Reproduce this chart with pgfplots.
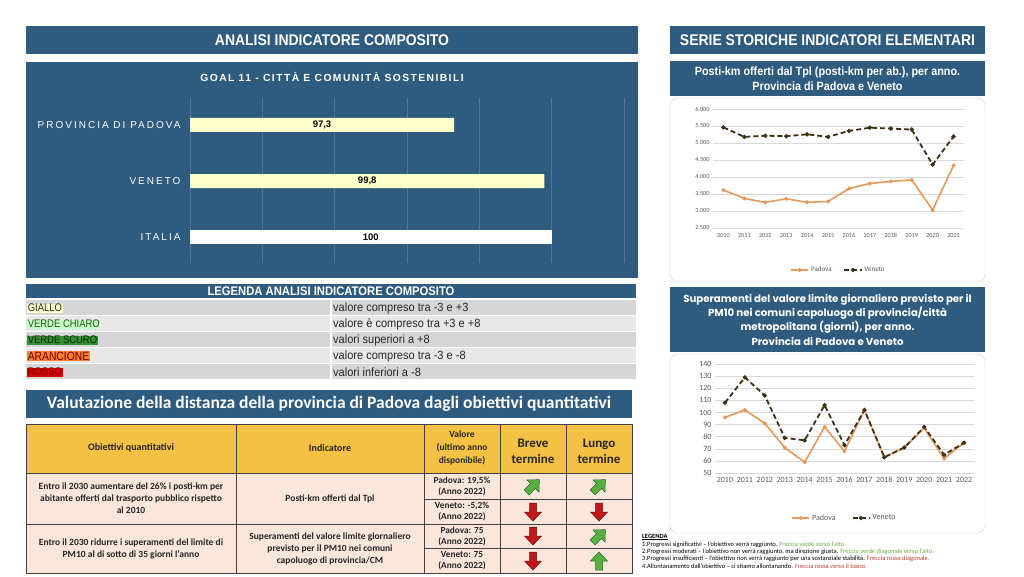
\documentclass[border=0pt]{standalone}
\usepackage{fontspec}
\usepackage{pgfplots}
\pgfplotsset{compat=1.18}
\setmainfont{Carlito}
\newfontfamily\cond[FakeStretch=0.9]{Liberation Sans}
\newfontfamily\narrow[FakeStretch=0.86]{Liberation Sans}
\newfontfamily\legfont[FakeStretch=0.92]{Liberation Sans}
\newfontfamily\arial{Liberation Sans}
\newfontfamily\spaced[LetterSpace=14]{Liberation Sans}
\newfontfamily\wide[LetterSpace=20]{Liberation Sans}
\newfontfamily\pop{Poppins}

\definecolor{hdr}{HTML}{2E5B7E}
\definecolor{gridblue}{HTML}{4F7596}
\definecolor{giallo}{HTML}{FFFFCC}
\definecolor{rowA}{HTML}{D6D6D6}
\definecolor{rowB}{HTML}{E8E8E8}
\definecolor{thead}{HTML}{F5C145}
\definecolor{tbody}{HTML}{FAE6DA}
\definecolor{padova}{HTML}{E39A5C}
\definecolor{veneto}{HTML}{3D3015}
\definecolor{tickgray}{HTML}{595959}
\definecolor{agreen}{HTML}{58B042}
\definecolor{ared}{HTML}{C3161B}
\definecolor{txtgreen}{HTML}{6AAE45}
\definecolor{txtred}{HTML}{C0392B}

\tikzset{
  blockarrow/.pic={\path[pic actions] (-3.5,-9) -- (3.5,-9) -- (3.5,0) -- (8.5,0) -- (0,9) -- (-8.5,0) -- (-3.5,0) -- cycle;},
  up/.style={fill=agreen, draw=agreen!55!black, line width=0.5pt},
  diag/.style={fill=agreen, draw=agreen!55!black, line width=0.5pt, rotate=-45},
  down/.style={fill=ared, draw=ared!55!black, line width=0.5pt, rotate=180},
  cell/.style={align=center, text=black!85, font=\bfseries\fontsize{9.5}{12}\selectfont},
  val/.style={align=center, text=black!85, font=\bfseries\fontsize{9.3}{11}\selectfont},
  leg/.style={anchor=west, inner sep=0.6pt, font=\narrow\fontsize{11}{12}\selectfont},
}

\begin{document}
\begin{tikzpicture}[x=1pt,y=1pt]
\path[use as bounding box] (0,0) rectangle (1024,-576);
\fill[white] (0,0) rectangle (1024,-576);

% ---- left column headers
\fill[hdr] (26,-26) rectangle (638,-54);
\node[text=white, font=\cond\bfseries\fontsize{15.5}{18}\selectfont] at (332,-40) {ANALISI INDICATORE COMPOSITO};
\fill[hdr] (26,-62) rectangle (638,-278);
\node[text=white, font=\spaced\bfseries\fontsize{10.3}{12}\selectfont] at (332,-77) {GOAL 11 - CITTÀ E COMUNITÀ SOSTENIBILI};

% ---- legend of composite indicator
\fill[hdr] (26,-284) rectangle (636,-298);
\node[text=white, font=\cond\bfseries\fontsize{12.5}{13}\selectfont] at (331,-291) {LEGENDA ANALISI INDICATORE COMPOSITO};
\foreach \i/\c in {0/rowA,1/rowB,2/rowA,3/rowB,4/rowA} {
  \fill[\c] (26,-300-16*\i) rectangle (330,-315-16*\i);
  \fill[\c] (332,-300-16*\i) rectangle (636,-315-16*\i);
}
\node[leg, fill=giallo, text=black!85] at (27,-308) {GIALLO};
\node[leg, fill=green!22!white, text={rgb,255:red,40;green,85;blue,25}] at (27,-324) {VERDE CHIARO};
\node[leg, fill=green!45!black!80, text={rgb,255:red,15;green,40;blue,10}] at (27,-340) {VERDE SCURO};
\node[leg, fill=orange!75!red!80, text=red!40!black, font=\narrow\fontsize{12}{13}\selectfont] at (27,-356) {ARANCIONE};
\node[leg, fill=red!85!black, text=red!45!black] at (27,-372) {ROSSO};
\foreach \i/\t in {0/valore compreso tra -3 e +3,1/valore è compreso tra +3 e +8,2/valori superiori a +8,3/valore compreso tra -3 e -8,4/valori inferiori a -8}
  \node[anchor=west, inner sep=0pt, text=black!85, font=\legfont\fontsize{12}{13}\selectfont] at (333,-308-16*\i) {\t};

% ---- evaluation table
\fill[hdr] (26,-390) rectangle (632,-418);
\node[text=white, font=\bfseries\fontsize{17.5}{20}\selectfont] at (329,-404) {Valutazione della distanza della provincia di Padova dagli obiettivi quantitativi};
\fill[thead] (26,-424) rectangle (632,-473);
\fill[tbody] (26,-473) rectangle (632,-573);
\begin{scope}[draw=black!75, line width=0.6pt]
  \draw (26,-424) rectangle (632,-573);
  \draw (26,-473) -- (632,-473);
  \draw (26,-524) -- (632,-524);
  \draw (424,-499) -- (632,-499);
  \draw (424,-548) -- (632,-548);
  \foreach \x in {236,424,500,566} \draw (\x,-424) -- (\x,-573);
\end{scope}
\node[cell, font=\bfseries\fontsize{10}{12}\selectfont] at (131,-448) {Obiettivi quantitativi};
\node[cell, font=\bfseries\fontsize{10}{12}\selectfont] at (330,-448) {Indicatore};
\node[cell, font=\bfseries\fontsize{9.5}{13}\selectfont] at (462,-448) {Valore\\(ultimo anno\\disponibile)};
\node[cell, font=\bfseries\fontsize{13}{16}\selectfont] at (533,-451) {Breve\\termine};
\node[cell, font=\bfseries\fontsize{13}{16}\selectfont] at (599,-451) {Lungo\\termine};
\node[cell] at (131,-498.5) {Entro il 2030 aumentare del 26\% i posti-km per\\abitante offerti dal trasporto pubblico rispetto\\al 2010};
\node[cell] at (330,-498.5) {Posti-km offerti dal Tpl};
\node[cell] at (131,-548.5) {Entro il 2030 ridurre i superamenti del limite di\\PM10 al di sotto di 35 giorni l'anno};
\node[cell] at (330,-548.5) {Superamenti del valore limite giornaliero\\previsto per il PM10 nei comuni\\capoluogo di provincia/CM};
\node[val] at (462,-486) {Padova: 19,5\%\\(Anno 2022)};
\node[val] at (462,-511.5) {Veneto: -5,2\%\\(Anno 2022)};
\node[val] at (462,-536) {Padova: 75\\(Anno 2022)};
\node[val] at (462,-560.5) {Veneto: 75\\(Anno 2022)};
\pic[diag] at (533,-486) {blockarrow};
\pic[diag] at (599,-486) {blockarrow};
\pic[down] at (533,-512) {blockarrow};
\pic[down] at (599,-512) {blockarrow};
\pic[down] at (533,-536) {blockarrow};
\pic[diag] at (599,-536) {blockarrow};
\pic[down] at (533,-561) {blockarrow};
\pic[up] at (599,-561) {blockarrow};

% ---- right column
\fill[hdr] (670,-26) rectangle (985,-54);
\node[text=white, font=\cond\bfseries\fontsize{15.5}{18}\selectfont] at (827.5,-40) {SERIE STORICHE INDICATORI ELEMENTARI};
\fill[hdr] (670,-61) rectangle (985,-96);
\node[text=white, align=center, font=\cond\bfseries\fontsize{12}{14.5}\selectfont] at (827.5,-78.5) {Posti-km offerti dal Tpl (posti-km per ab.), per anno.\\Provincia di Padova e Veneto};
\draw[black!18, fill=white, rounded corners=8pt] (670,-98) rectangle (985,-282);
\fill[hdr] (670,-287) rectangle (985,-352);
\node[text=white, align=center, font=\pop\bfseries\fontsize{10.2}{14.3}\selectfont] at (827.5,-319.5) {Superamenti del valore limite giornaliero previsto per il\\PM10 nei comuni capoluogo di provincia/città\\metropolitana (giorni), per anno.\\Provincia di Padova e Veneto};
\draw[black!18, fill=white, rounded corners=8pt] (670,-354) rectangle (985,-533);

% ---- arrow legend
\node[anchor=west, inner sep=0pt, font=\bfseries\fontsize{6.5}{7}\selectfont] at (642,-537) {\underline{LEGENDA}};
\begin{scope}[every node/.style={anchor=west, inner sep=0pt, font=\fontsize{6.5}{7}\selectfont}]
\node at (642,-545) {1.Progressi significativi – l'obiettivo verrà raggiunto. \textcolor{txtgreen}{Freccia verde verso l'alto.}};
\node at (642,-552) {2.Progressi moderati – l'obiettivo non verrà raggiunto, ma direzione giusta. \textcolor{txtgreen}{Freccia verde diagonale verso l'alto.}};
\node at (642,-559) {3.Progressi insufficienti – l'obiettivo non verrà raggiunto per una sostanziale stabilità. \textcolor{txtred}{Freccia rossa diagonale.}};
\node at (642,-566) {4.Allontanamento dall'obiettivo – ci stiamo allontanando. \textcolor{txtred}{Freccia rossa verso il basso.}};
\end{scope}

% ---- composite indicator bars
\begin{axis}[at={(190pt,-263pt)}, anchor=south west, scale only axis,
  width=434pt, height=165pt,
  xbar, bar width=14pt,
  xmin=90, xmax=102, ymin=-0.464, ymax=2.482,
  axis line style={draw=none}, major tick length=0pt,
  xtick={90,92,...,102}, xticklabel=\empty,
  xmajorgrids, grid style={gridblue, line width=0.6pt},
  ytick={0,1,2}, yticklabels={ITALIA,VENETO,PROVINCIA DI PADOVA},
  yticklabel style={text=white, xshift=-6pt, font=\wide\fontsize{10}{11}\selectfont},
  point meta=x,
  visualization depends on={x \as \rawx},
  nodes near coords={\pgfmathprintnumber[use comma,fixed,precision=1,assume math mode=true]{\pgfplotspointmeta}},
  every node near coord/.append style={anchor=center, text=black, font=\arial\bfseries\fontsize{9.5}{10}\selectfont, xshift={-(\rawx-90)*18.083pt}},
]
\addplot[fill=giallo, draw=none, bar shift=0pt] coordinates {(97.3,2) (99.8,1)};
\addplot[fill=white, draw=none, bar shift=0pt] coordinates {(100,0)};
\end{axis}

% ---- posti-km chart
\begin{axis}[at={(713pt,-228pt)}, anchor=south west, scale only axis,
  width=251pt, height=119pt,
  xmin=2009.5, xmax=2021.5, ymin=2500, ymax=6000,
  xtick={2010,2011,...,2021}, ytick={2500,3000,...,6000},
  axis line style={draw=none}, major tick length=0pt,
  ymajorgrids, grid style={line width=0.5pt, black!15},
  /pgf/number format/assume math mode=true,
  xticklabel style={/pgf/number format/1000 sep={}, text height=1.3ex, text depth=0pt},
  yticklabel style={/pgf/number format/1000 sep={.}},
  scaled y ticks=false,
  tick label style={font=\fontsize{6.2}{7}\selectfont, text=tickgray},
  legend style={at={(0.5,-0.353)}, anchor=center, draw=none, fill=none,
    font=\fontsize{7}{8}\selectfont, text=tickgray, legend columns=2,
    /tikz/every even column/.append style={column sep=10pt}},
]
\addplot[padova, line width=1.6pt, mark=*, mark size=1.1pt] coordinates {
(2010,3615) (2011,3370) (2012,3255) (2013,3360) (2014,3255) (2015,3280)
(2016,3660) (2017,3810) (2018,3870) (2019,3915) (2020,3030) (2021,4340)};
\addlegendentry{Padova}
\addplot[veneto, line width=1.8pt, dash pattern=on 5pt off 3pt, mark=*, mark size=1.1pt, mark options={solid}] coordinates {
(2010,5460) (2011,5180) (2012,5215) (2013,5200) (2014,5255) (2015,5180)
(2016,5355) (2017,5450) (2018,5425) (2019,5395) (2020,4365) (2021,5190)};
\addlegendentry{Veneto}
\end{axis}

% ---- PM10 chart
\begin{axis}[at={(715pt,-473pt)}, anchor=south west, scale only axis,
  width=259pt, height=109pt,
  xmin=2009.5, xmax=2022.5, ymin=50, ymax=140,
  xtick={2010,2011,...,2022}, ytick={50,60,...,140},
  axis line style={draw=none}, major tick length=0pt,
  ymajorgrids, grid style={line width=0.5pt, black!15},
  /pgf/number format/assume math mode=true,
  xticklabel style={/pgf/number format/1000 sep={}, text height=1.3ex, text depth=0pt},
  tick label style={font=\fontsize{8}{9}\selectfont, text=tickgray},
  legend style={at={(0.5,-0.413)}, anchor=center, draw=none, fill=none,
    font=\fontsize{8}{9}\selectfont, text=tickgray, legend columns=2,
    /tikz/every even column/.append style={column sep=14pt}},
]
\addplot[padova, line width=1.6pt, mark=*, mark size=1.1pt] coordinates {
(2010,96) (2011,102) (2012,91) (2013,71) (2014,59) (2015,88) (2016,68)
(2017,102) (2018,63) (2019,71) (2020,87) (2021,62) (2022,75)};
\addlegendentry{Padova}
\addplot[veneto, line width=1.8pt, dash pattern=on 5pt off 3pt, mark=*, mark size=1.1pt, mark options={solid}] coordinates {
(2010,108) (2011,129) (2012,114) (2013,79) (2014,77) (2015,106) (2016,73)
(2017,102) (2018,63) (2019,71) (2020,88) (2021,65) (2022,75)};
\addlegendentry{Veneto}
\end{axis}
\end{tikzpicture}
\end{document}
